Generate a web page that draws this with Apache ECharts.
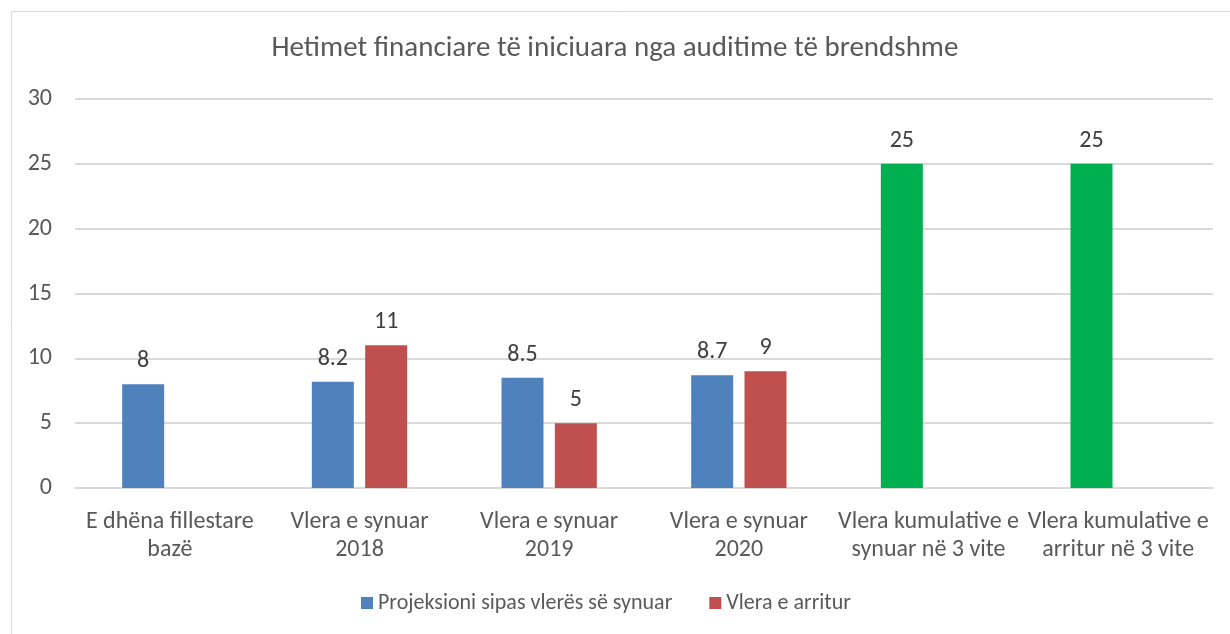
<!DOCTYPE html>
<html>
<head>
<meta charset="utf-8">
<script src="https://cdn.jsdelivr.net/npm/echarts@6/dist/echarts.min.js"></script>
<style>
  html, body { margin: 0; padding: 0; background: #fff; }
  #chart { width: 1230px; height: 634px; }
</style>
</head>
<body>
<div id="chart"></div>
<script>
// categories and values
const categories = [
  'E dhëna fillestare\nbazë',
  'Vlera e synuar\n2018',
  'Vlera e synuar\n2019',
  'Vlera e synuar\n2020',
  'Vlera kumulative e\nsynuar në 3 vite',
  'Vlera kumulative e\narritur në 3 vite'
];
const projected = [8, 8.2, 8.5, 8.7, 25, 25];
const achieved = [null, 11, 5, 9, null, null];
// the last two bars of the first series are painted green
const cumulativeIdx = [4, 5];

const blue = '#4F81BD';
const red = '#C0504D';
const green = '#00B050';
const font = 'Carlito, Lato, sans-serif';

const myChart = echarts.init(document.getElementById('chart'));

myChart.setOption({
  animation: false,
  textStyle: { fontFamily: font },
  title: {
    text: 'Hetimet financiare të iniciuara nga auditime të brendshme',
    left: 'center',
    top: 29,
    textStyle: { fontFamily: font, fontSize: 29, fontWeight: 'normal', color: '#595959' }
  },
  graphic: [{
    type: 'rect',
    shape: { x: 11.5, y: 11.5, width: 1300, height: 700 },
    style: { fill: 'none', stroke: '#d9d9d9', lineWidth: 1 },
    silent: true
  }],
  legend: {
    left: 361,
    top: 592,
    padding: 0,
    itemWidth: 12,
    itemHeight: 12,
    itemGap: 37,
    icon: 'rect',
    textStyle: { fontFamily: font, fontSize: 22, color: '#595959' },
    data: ['Projeksioni sipas vlerës së synuar', 'Vlera e arritur']
  },
  grid: {
    left: 75,
    right: 17,
    top: 99,
    bottom: 146,
    containLabel: false
  },
  xAxis: {
    type: 'category',
    data: categories,
    axisTick: { show: false },
    axisLine: { lineStyle: { color: '#d9d9d9', width: 2 } },
    axisLabel: {
      interval: 0,
      margin: 20,
      fontFamily: font,
      fontSize: 24,
      lineHeight: 28,
      color: '#595959'
    }
  },
  yAxis: {
    type: 'value',
    min: 0,
    max: 30,
    interval: 5,
    axisLine: { show: false },
    axisTick: { show: false },
    splitLine: { lineStyle: { color: '#d9d9d9', width: 2 } },
    axisLabel: {
      margin: 23,
      fontFamily: font,
      fontSize: 24,
      color: '#595959'
    }
  },
  series: [
    {
      name: 'Projeksioni sipas vlerës së synuar',
      type: 'bar',
      barWidth: 42,
      barGap: '27%',
      itemStyle: { color: blue },
      label: {
        show: true,
        position: 'top',
        distance: 11,
        fontFamily: font,
        fontSize: 24,
        color: '#404040'
      },
      data: projected.map((v, i) =>
        cumulativeIdx.includes(i) ? { value: v, itemStyle: { color: green } } : v)
    },
    {
      name: 'Vlera e arritur',
      type: 'bar',
      barWidth: 42,
      barGap: '27%',
      itemStyle: { color: red },
      label: {
        show: true,
        position: 'top',
        distance: 11,
        fontFamily: font,
        fontSize: 24,
        color: '#404040'
      },
      data: achieved
    }
  ]
});
</script>
</body>
</html>
